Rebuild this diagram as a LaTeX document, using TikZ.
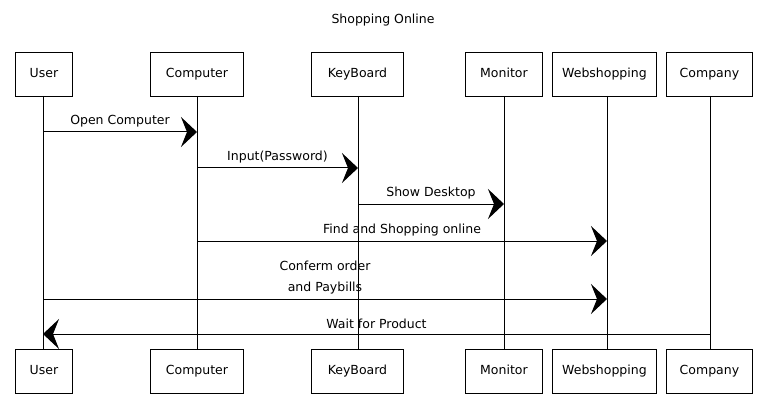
\documentclass[tikz,border=0pt]{standalone}
\usepackage{fontspec}
\setmainfont{DejaVu Sans}
\usetikzlibrary{arrows.meta,positioning}
\begin{document}
\begin{tikzpicture}[x=1pt,y=-1pt,
  part/.style={draw, line width=0.9pt, minimum height=44pt, inner xsep=0pt, text height=9pt, text depth=3pt, font=\fontsize{12.5}{14}\selectfont, anchor=north west},
  life/.style={line width=0.8pt},
  msg/.style={line width=1pt, -{Stealth[length=16pt, width=30pt, inset=6pt]}},
  lbl/.style={font=\fontsize{12.5}{21}\selectfont, align=center}]
\useasboundingbox (0,0) rectangle (766,417);
\node[font=\fontsize{12.5}{14}\selectfont] (title) at (383,20) {Shopping Online};
% top participants
\node[part, minimum width=57pt] (tu) at (15,52) {User};
\node[part, minimum width=93pt] (tc) at (150,52) {Computer};
\node[part, minimum width=92pt] (tk) at (311,52) {KeyBoard};
\node[part, minimum width=77pt] (tm) at (465,52) {Monitor};
\node[part, minimum width=104pt] (tw) at (552,52) {Webshopping};
\node[part, minimum width=86pt] (tco) at (666,52) {Company};
% bottom participants
\node[part, minimum width=57pt] (bu) at (15,349) {User};
\node[part, minimum width=93pt] (bc) at (150,349) {Computer};
\node[part, minimum width=92pt] (bk) at (311,349) {KeyBoard};
\node[part, minimum width=77pt] (bm) at (465,349) {Monitor};
\node[part, minimum width=104pt] (bw) at (552,349) {Webshopping};
\node[part, minimum width=86pt] (bco) at (666,349) {Company};
% lifelines
\coordinate (lu1) at (43,96);  \coordinate (lu2) at (43,349);
\coordinate (lc1) at (197,96); \coordinate (lc2) at (197,349);
\coordinate (lk1) at (358,96); \coordinate (lk2) at (358,349);
\coordinate (lm1) at (504,96); \coordinate (lm2) at (504,349);
\coordinate (lw1) at (607,96); \coordinate (lw2) at (607,349);
\coordinate (lco1) at (710,96); \coordinate (lco2) at (710,349);
\draw[life] (lu1) -- (lu2);
\draw[life] (lc1) -- (lc2);
\draw[life] (lk1) -- (lk2);
\draw[life] (lm1) -- (lm2);
\draw[life] (lw1) -- (lw2);
\draw[life] (lco1) -- (lco2);
% messages
\coordinate (m1a) at (43,132);  \coordinate (m1b) at (197,132);
\coordinate (m2a) at (197,168); \coordinate (m2b) at (358,168);
\coordinate (m3a) at (358,204); \coordinate (m3b) at (504,204);
\coordinate (m4a) at (197,241); \coordinate (m4b) at (607,241);
\coordinate (m5a) at (43,299);  \coordinate (m5b) at (607,299);
\coordinate (m6a) at (710,334); \coordinate (m6b) at (43,334);
\draw[msg] (m1a) -- node[lbl, above=1pt] (l1) {Open Computer} (m1b);
\draw[msg] (m2a) -- node[lbl, above=1pt] (l2) {Input(Password)} (m2b);
\draw[msg] (m3a) -- node[lbl, above=1pt] (l3) {Show Desktop} (m3b);
\draw[msg] (m4a) -- node[lbl, above=1pt] (l4) {Find and Shopping online} (m4b);
\draw[msg] (m5a) -- node[lbl, above=1pt] (l5) {Conferm order\\and Paybills} (m5b);
\draw[msg] (m6a) -- node[lbl, above=1pt] (l6) {Wait for Product} (m6b);
\end{tikzpicture}
\end{document}
